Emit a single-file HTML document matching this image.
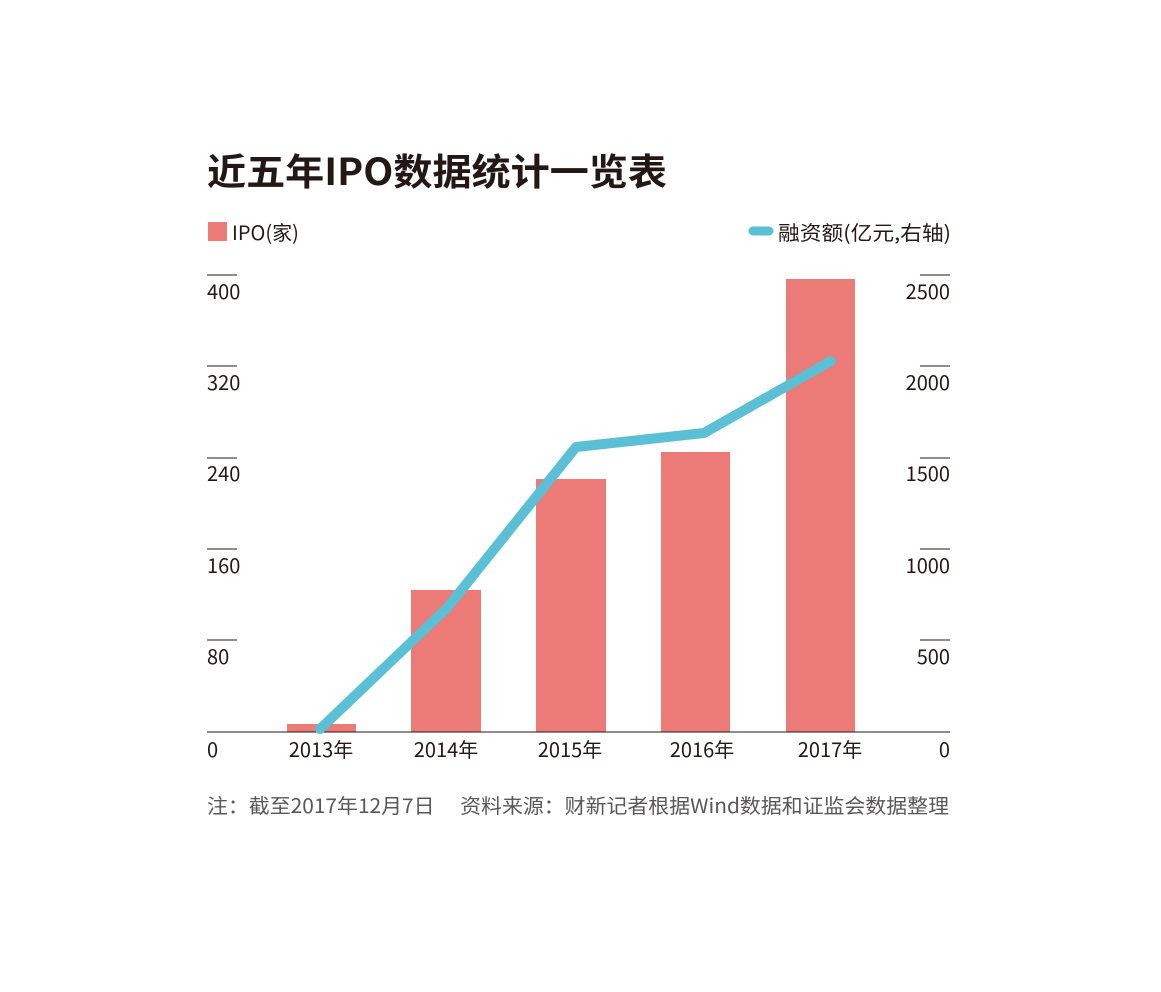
<!DOCTYPE html>
<html><head><meta charset="utf-8"><style>
body{margin:0;background:#fff;}
svg text{font-family:"Noto Sans CJK SC","Liberation Sans",sans-serif;}
</style></head><body>
<svg width="1161" height="987" xmlns="http://www.w3.org/2000/svg">
<rect width="1161" height="987" fill="#fff"/>
<text x="207" y="185" font-size="37" font-weight="bold" fill="#231815" textLength="460" lengthAdjust="spacingAndGlyphs">近五年IPO数据统计一览表</text>
<rect x="208" y="222" width="19" height="19" fill="#EC7A77"/>
<text x="232" y="240" font-size="20" fill="#231815">IPO(家)</text>
<line x1="753" y1="231" x2="769" y2="231" stroke="#5BBFD6" stroke-width="9" stroke-linecap="round"/>
<text x="778" y="240" font-size="20" fill="#231815" textLength="173" lengthAdjust="spacingAndGlyphs">融资额(亿元,右轴)</text>
<g stroke="#231815" stroke-width="1">
<line x1="207" y1="275" x2="237" y2="275"/><line x1="207" y1="366" x2="237" y2="366"/><line x1="207" y1="458" x2="237" y2="458"/><line x1="207" y1="549" x2="237" y2="549"/><line x1="207" y1="640" x2="237" y2="640"/>
<line x1="920" y1="275" x2="950" y2="275"/><line x1="920" y1="366" x2="950" y2="366"/><line x1="920" y1="458" x2="950" y2="458"/><line x1="920" y1="549" x2="950" y2="549"/><line x1="920" y1="640" x2="950" y2="640"/>
</g>
<g font-size="20" fill="#231815">
<text x="207" y="299">400</text><text x="207" y="390">320</text><text x="207" y="481">240</text><text x="207" y="573">160</text><text x="207" y="664">80</text><text x="207" y="757">0</text>
<text x="950" y="299" text-anchor="end">2500</text><text x="950" y="390" text-anchor="end">2000</text><text x="950" y="481" text-anchor="end">1500</text><text x="950" y="573" text-anchor="end">1000</text><text x="950" y="664" text-anchor="end">500</text><text x="950" y="757" text-anchor="end">0</text>
<text x="321" y="757" text-anchor="middle">2013年</text><text x="446" y="757" text-anchor="middle">2014年</text><text x="570" y="757" text-anchor="middle">2015年</text><text x="702" y="757" text-anchor="middle">2016年</text><text x="830" y="757" text-anchor="middle">2017年</text>
</g>
<g fill="#EC7A77">
<rect x="287" y="724" width="69" height="8"/>
<rect x="411" y="590" width="70" height="142"/>
<rect x="536" y="479" width="70" height="253"/>
<rect x="661" y="452" width="69" height="280"/>
<rect x="786" y="279" width="69" height="453"/>
</g>
<line x1="207" y1="732" x2="950" y2="732" stroke="#231815" stroke-width="1"/>
<polyline points="320,729 447,608 576,447 704,433 831,361" fill="none" stroke="#5BBFD6" stroke-width="10" stroke-linecap="round" stroke-linejoin="round"/>
<text x="207" y="813" font-size="20" fill="#595757" textLength="742" lengthAdjust="spacingAndGlyphs">注：截至2017年12月7日　 资料来源：财新记者根据Wind数据和证监会数据整理</text>
</svg>
</body></html>
